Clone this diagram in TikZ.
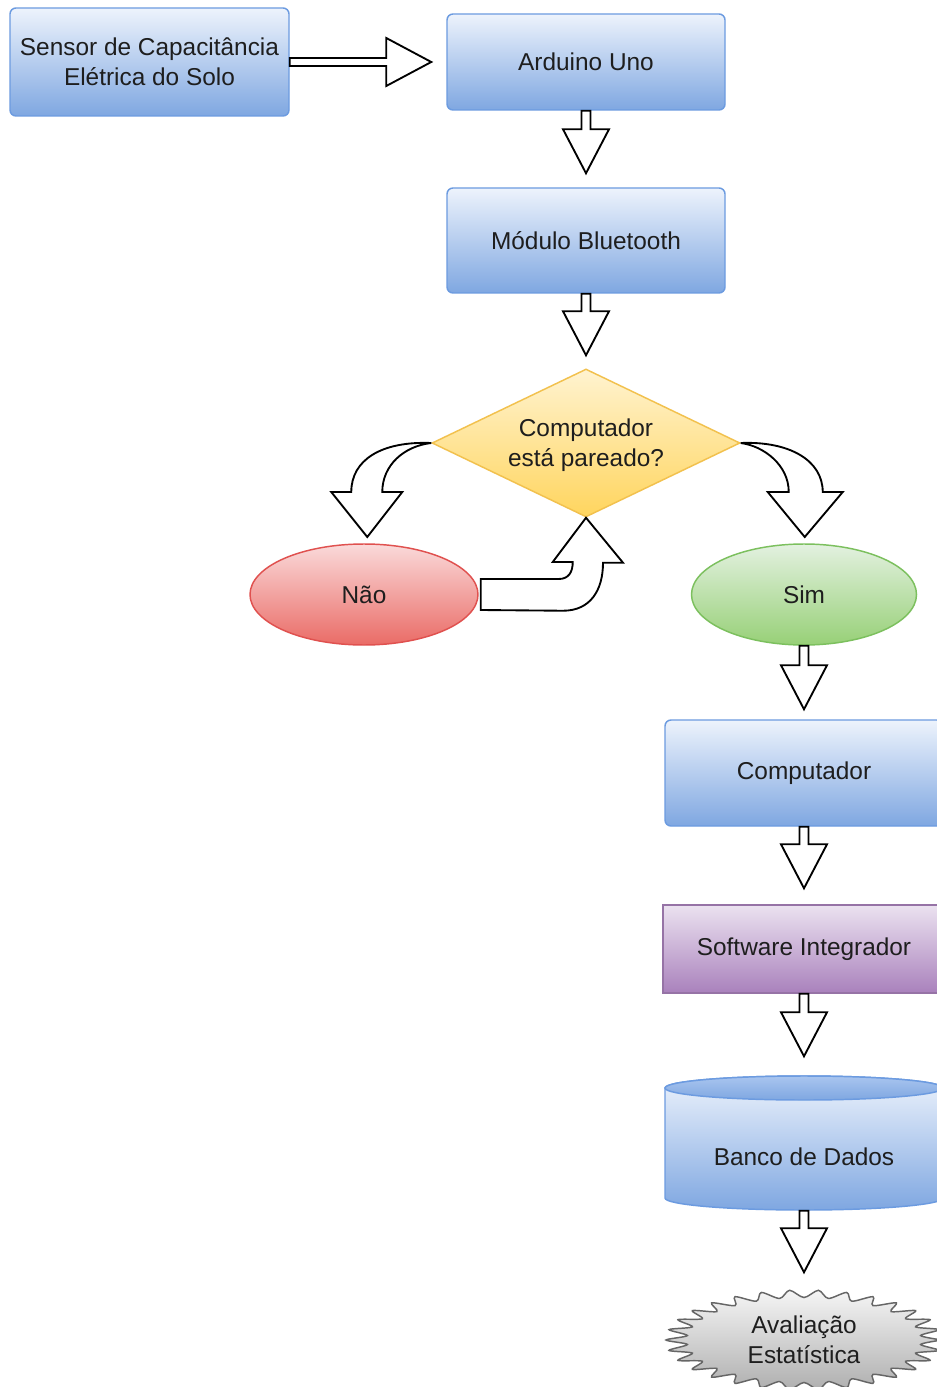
\documentclass[tikz,border=0pt]{standalone}
\usepackage{fontspec}
\setmainfont{Liberation Sans}
\usetikzlibrary{shapes.geometric,calc}
\definecolor{bluetop}{HTML}{EDF3FC}
\definecolor{bluebot}{HTML}{7FA7E1}
\definecolor{bluestroke}{HTML}{6C9BE0}
\definecolor{cyltop}{HTML}{A9C5EF}
\definecolor{yeltop}{HTML}{FFF3D0}
\definecolor{yelbot}{HTML}{FFD55E}
\definecolor{yelstroke}{HTML}{F2C14E}
\definecolor{redtop}{HTML}{FADADA}
\definecolor{redbot}{HTML}{EA6B66}
\definecolor{redstroke}{HTML}{E0514F}
\definecolor{grntop}{HTML}{E3F1E0}
\definecolor{grnbot}{HTML}{97D077}
\definecolor{grnstroke}{HTML}{7CC05E}
\definecolor{purtop}{HTML}{EBE2F0}
\definecolor{purbot}{HTML}{A981BC}
\definecolor{purstroke}{HTML}{9673A6}
\definecolor{grytop}{HTML}{F5F5F5}
\definecolor{grybot}{HTML}{AFAFAF}
\definecolor{grystroke}{HTML}{666666}
\definecolor{txtc}{HTML}{1E1E1E}
\newcommand\vblk[3]{%
  \draw[blk] ($(#1.south)+(-4.5,0)$) -- ($(#2.north)+(-4.5,-44-#3)$) -- ($(#2.north)+(-23,-44-#3)$)
   -- ($(#2.north)+(0,-#3)$) -- ($(#2.north)+(23,-44-#3)$) -- ($(#2.north)+(4.5,-44-#3)$)
   -- ($(#1.south)+(4.5,0)$) -- cycle;}
\begin{document}
\begin{tikzpicture}[x=0.75pt,y=-0.75pt,
  font=\fontsize{18.3}{22.5}\selectfont,
  base/.style={line width=1.1pt, inner sep=0pt, align=center, text=txtc},
  bluebox/.style={base, rectangle, rounded corners=4.5pt, draw=bluestroke, top color=bluetop, bottom color=bluebot},
  dia/.style={base, diamond, draw=yelstroke, top color=yeltop, bottom color=yelbot, minimum width=231pt, minimum height=111pt},
  redell/.style={base, ellipse, draw=redstroke, top color=redtop, bottom color=redbot, minimum width=171pt, minimum height=75.75pt},
  grnell/.style={base, ellipse, draw=grnstroke, top color=grntop, bottom color=grnbot, minimum width=168.75pt, minimum height=75.75pt},
  purbox/.style={base, rectangle, draw=purstroke, top color=purtop, bottom color=purbot},
  lbl/.style={base, draw=none, fill=none},
  blk/.style={draw=black, fill=white, line width=1.4pt, line join=miter},
]
\useasboundingbox (0,0) rectangle (937,1387);
\fill[white] (0,0) rectangle (937,1387);

% nodes
\node[bluebox, minimum width=209.25pt, minimum height=81pt] (sen) at (149.5,62) {Sensor de Capacitância\\Elétrica do Solo};
\node[bluebox, minimum width=208.5pt, minimum height=72pt] (ard) at (586,62) {Arduino Uno};
\node[bluebox, minimum width=208.5pt, minimum height=78.75pt] (bt) at (586,240.5) {Módulo Bluetooth};
\node[dia] (d) at (586,443) {};
\node[lbl] (dtxt) at (586,445) {Computador\\está pareado?};
\node[redell] (nao) at (364,594.5) {Não};
\node[grnell] (sim) at (804,594.5) {Sim};
\node[bluebox, minimum width=208.5pt, minimum height=79.5pt] (comp) at (804,773) {Computador};
\node[purbox, minimum width=211.5pt, minimum height=66pt] (soft) at (804,949) {Software Integrador};

% cylinder
\path[draw=bluestroke, line width=1.1pt, top color=bluetop, bottom color=bluebot]
  (665,1088) -- (665,1198) arc[start angle=180, end angle=0, x radius=139, y radius=12]
  -- (943,1088) arc[start angle=0, end angle=-180, x radius=139, y radius=12] -- cycle;
\path[draw=bluestroke, line width=1.1pt, top color=cyltop, bottom color=bluebot]
  (804,1088) ellipse[x radius=139, y radius=12];
\node[lbl, minimum width=208.5pt, minimum height=100.5pt] (ban) at (804,1143) {};
\node[lbl] (bantxt) at (804,1157) {Banco de Dados};

% starburst
\path[draw=grystroke, line width=1.1pt, top color=grytop, bottom color=grybot, shift={(804,1340)}]
  plot[domain=0:360, samples=61, smooth=false]
  ({138*(0.925+0.075*cos(30*\x))*cos(\x)}, {50*(0.925+0.075*cos(30*\x))*sin(\x)}) -- cycle;
\node[lbl, ellipse, minimum width=207pt, minimum height=75pt] (st) at (804,1340) {Avaliação\\Estatística};

% arrows
\draw[blk] ($(sen.east)+(0,-4)$) -- ($(ard.west)+(-60,-4)$) -- ($(ard.west)+(-60,-24)$)
  -- ($(ard.west)+(-15,0)$) -- ($(ard.west)+(-60,24)$) -- ($(ard.west)+(-60,4)$)
  -- ($(sen.east)+(0,4)$) -- cycle;
\vblk{ard}{bt}{14}
\vblk{bt}{d}{13}
\vblk{sim}{comp}{10}
\vblk{comp}{soft}{16}
\vblk{soft}{ban}{19}
\vblk{ban}{st}{17}

% curved arrow to Nao
\draw[blk] (d.west) .. controls +(-50,-2) and +(0,-32) .. ++(-80,49) -- ++(-20,0) -- ++(36,45)
  -- ++(35,-45) -- ++(-20,0) .. controls +(0,-27) and +(-27,3) .. (d.west) -- cycle;
% curved arrow to Sim
\draw[blk] (d.east) .. controls +(48,-2) and +(0,-32) .. ++(82,49) -- ++(20,0) -- ++(-38,45)
  -- ++(-37,-45) -- ++(21,0) .. controls +(0,-27) and +(23,3) .. (d.east) -- cycle;
% Nao back to diamond
\draw[blk] ($(nao.east)+(2,-15.5)$) -- ++(78,0) .. controls +(10,0) and +(0,10) .. ++(14,-17)
  -- ++(-20,0) -- (d.south) -- ++(37,45) -- ++(-20,0)
  .. controls +(0,28) and +(27,0) .. ++(-40,48) -- ($(nao.east)+(2,15.5)$) -- cycle;
\end{tikzpicture}
\end{document}
